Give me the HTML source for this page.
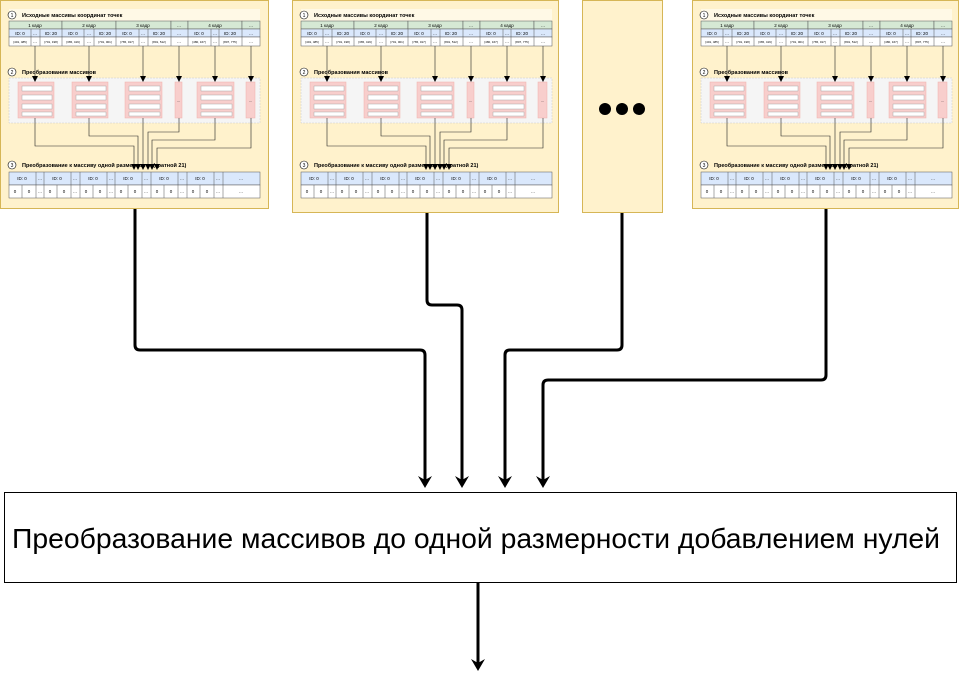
<!DOCTYPE html>
<html><head><meta charset="utf-8"><style>
html,body{margin:0;padding:0;background:#fff;width:961px;height:683px;overflow:hidden}
svg{display:block}
text{font-family:"Liberation Sans",sans-serif}
</style></head><body>
<svg width="961" height="683" viewBox="0 0 961 683" xmlns="http://www.w3.org/2000/svg">
<defs>
<marker id="a" markerWidth="6" markerHeight="6" refX="3" refY="3" orient="auto" markerUnits="userSpaceOnUse"><path d="M0,0 L6,3 L0,6 z" fill="#000"/></marker>
<marker id="A" markerWidth="14" markerHeight="14" refX="8" refY="7" orient="auto" markerUnits="userSpaceOnUse"><path d="M0,0 L12,7 L0,14 L4,7 z" fill="#000"/></marker>
</defs>

<!-- main connectors -->
<g fill="none" stroke="#000" stroke-width="3" stroke-linejoin="round">
<path d="M135,208 V345 Q135,350 140,350 H420 Q425,350 425,355 V484" marker-end="url(#A)"/>
<path d="M427,212 V300 Q427,305 432,305 H457 Q462,305 462,310 V484" marker-end="url(#A)"/>
<path d="M622,213 V345 Q622,350 617,350 H510 Q505,350 505,355 V484" marker-end="url(#A)"/>
<path d="M826,208 V375 Q826,380 821,380 H548 Q543,380 543,385 V484" marker-end="url(#A)"/>
<path d="M478,582 V667" marker-end="url(#A)"/>
</g>
<rect x="4.5" y="492.5" width="952" height="90" fill="#fff" stroke="#000" stroke-width="1"/>
<text x="12" y="548" font-size="28" textLength="928" lengthAdjust="spacingAndGlyphs">Преобразование массивов до одной размерности добавлением нулей</text>

<!-- dots panel -->
<rect x="582.5" y="0.5" width="80" height="212" fill="#fff2cc" stroke="#d6b656"/>
<circle cx="605" cy="109" r="6"/><circle cx="622" cy="109" r="6"/><circle cx="639" cy="109" r="6"/>

<!-- PANEL 1 -->
<g transform="translate(0,0)">
<rect x="0.5" y="0.5" width="268" height="208" fill="#fff2cc" stroke="#d6b656"/>
<rect x="9" y="9" width="251" height="12" fill="#fff9e6"/>
<circle cx="12" cy="15" r="4" fill="#fff" stroke="#000" stroke-width=".6"/><text x="12" y="17" font-size="5" text-anchor="middle">1</text>
<text x="22" y="17" font-size="5.5" font-weight="bold">Исходные массивы координат точек</text>
<g stroke="#555" stroke-width=".5">
<rect x="9" y="21" width="53" height="8" fill="#d5e8d4"/><rect x="62" y="21" width="54" height="8" fill="#d5e8d4"/><rect x="116" y="21" width="55" height="8" fill="#d5e8d4"/><rect x="171" y="21" width="17" height="8" fill="#d5e8d4"/><rect x="188" y="21" width="54" height="8" fill="#d5e8d4"/><rect x="242" y="21" width="18" height="8" fill="#d5e8d4"/>
<rect x="9" y="29" width="251" height="8" fill="#dae8fc"/><rect x="9" y="37" width="251" height="9" fill="#fff"/>
<path d="M31,29V46M40,29V46M62,29V46M84,29V46M94,29V46M116,29V46M139,29V46M148,29V46M171,29V46M188,29V46M211,29V46M219,29V46M242,29V46"/>
</g>
<g font-size="4.5" text-anchor="middle">
<text x="35" y="27">1 кадр</text><text x="89" y="27">2 кадр</text><text x="143" y="27">3 кадр</text><text x="179" y="27">...</text><text x="215" y="27">4 кадр</text><text x="251" y="27">...</text>
<text x="20" y="35">ID: 0</text><text x="35" y="35">...</text><text x="51" y="35">ID: 20</text><text x="73" y="35">ID: 0</text><text x="89" y="35">...</text><text x="105" y="35">ID: 20</text><text x="127" y="35">ID: 0</text><text x="143" y="35">...</text><text x="159" y="35">ID: 20</text><text x="179" y="35">...</text><text x="199" y="35">ID: 0</text><text x="215" y="35">...</text><text x="230" y="35">ID: 20</text><text x="251" y="35">...</text>
<text x="20" y="43" font-size="3">[401, 485]</text><text x="35" y="43">...</text><text x="51" y="43" font-size="3">[701, 198]</text><text x="73" y="43" font-size="3">[365, 419]</text><text x="89" y="43">...</text><text x="105" y="43" font-size="3">[701, 001]</text><text x="127" y="43" font-size="3">[765, 017]</text><text x="143" y="43">...</text><text x="159" y="43" font-size="3">[801, 512]</text><text x="179" y="43">...</text><text x="199" y="43" font-size="3">[480, 167]</text><text x="215" y="43">...</text><text x="230" y="43" font-size="3">[807, 775]</text><text x="251" y="43">...</text>
</g>
<circle cx="12" cy="72" r="4" fill="#fff" stroke="#000" stroke-width=".6"/><text x="12" y="74" font-size="5" text-anchor="middle">2</text>
<text x="22" y="74" font-size="5.5" font-weight="bold">Преобразования массивов</text>
<rect x="9" y="78" width="251" height="45" fill="#f5f5f5" stroke="#ccc" stroke-width=".5" stroke-dasharray="2,1"/>
<g fill="#f8cecc" stroke="#f0b0aa" stroke-width=".5">
<rect x="18" y="82" width="36" height="36"/><rect x="72" y="82" width="36" height="36"/><rect x="125" y="82" width="37" height="36"/><rect x="175" y="82" width="7" height="36"/><rect x="197" y="82" width="37" height="36"/><rect x="246" y="82" width="9" height="36"/>
</g>
<g fill="#fff" stroke="#999" stroke-width=".4">
<rect x="22" y="86" width="30" height="5"/><rect x="22" y="95" width="30" height="5"/><rect x="22" y="104" width="30" height="5"/><rect x="22" y="112" width="30" height="4"/>
<rect x="76" y="86" width="30" height="5"/><rect x="76" y="95" width="30" height="5"/><rect x="76" y="104" width="30" height="5"/><rect x="76" y="112" width="30" height="4"/>
<rect x="129" y="86" width="31" height="5"/><rect x="129" y="95" width="31" height="5"/><rect x="129" y="104" width="31" height="5"/><rect x="129" y="112" width="31" height="4"/>
<rect x="201" y="86" width="31" height="5"/><rect x="201" y="95" width="31" height="5"/><rect x="201" y="104" width="31" height="5"/><rect x="201" y="112" width="31" height="4"/>
</g>
<text x="178.5" y="102" font-size="4" text-anchor="middle">...</text><text x="250.5" y="102" font-size="4" text-anchor="middle">...</text>
<g fill="none" stroke="#222" stroke-width=".6">
<path d="M35,46V79" marker-end="url(#a)"/><path d="M89,46V79" marker-end="url(#a)"/><path d="M143,46V79" marker-end="url(#a)"/><path d="M179,46V79" marker-end="url(#a)"/><path d="M215,46V79" marker-end="url(#a)"/><path d="M251,46V79" marker-end="url(#a)"/>
<path d="M35,118V146H134V167" marker-end="url(#a)"/><path d="M89,118V136H138V167" marker-end="url(#a)"/><path d="M143,118V167" marker-end="url(#a)"/><path d="M179,118V132H148V167" marker-end="url(#a)"/><path d="M215,118V140H152V167" marker-end="url(#a)"/><path d="M251,118V148H157V167" marker-end="url(#a)"/>
</g>
<circle cx="12" cy="165" r="4" fill="#fff" stroke="#000" stroke-width=".6"/><text x="12" y="167" font-size="5" text-anchor="middle">3</text>
<text x="22" y="167" font-size="5.5" font-weight="bold">Преобразование к массиву одной размерности (кратной 21)</text>
<g stroke="#555" stroke-width=".5">
<rect x="9" y="172" width="251" height="13" fill="#dae8fc"/><rect x="9" y="185" width="251" height="13" fill="#fff"/>
<path d="M36,172V198M44,172V198M71,172V198M80,172V198M107,172V198M115,172V198M142,172V198M151,172V198M178,172V198M187,172V198M214,172V198M223,172V198M22,185V198M57,185V198M93,185V198M128,185V198M164,185V198M200,185V198"/>
</g>
<g font-size="4.5" text-anchor="middle">
<text x="22" y="180">ID: 0</text><text x="40" y="180">...</text><text x="57" y="180">ID: 0</text><text x="75" y="180">...</text><text x="93" y="180">ID: 0</text><text x="111" y="180">...</text><text x="128" y="180">ID: 0</text><text x="146" y="180">...</text><text x="164" y="180">ID: 0</text><text x="182" y="180">...</text><text x="200" y="180">ID: 0</text><text x="218" y="180">...</text><text x="241" y="180">...</text>
<text x="15" y="193">0</text><text x="29" y="193">0</text><text x="40" y="193">...</text><text x="50" y="193">0</text><text x="64" y="193">0</text><text x="75" y="193">...</text><text x="86" y="193">0</text><text x="100" y="193">0</text><text x="111" y="193">...</text><text x="121" y="193">0</text><text x="135" y="193">0</text><text x="146" y="193">...</text><text x="157" y="193">0</text><text x="171" y="193">0</text><text x="182" y="193">...</text><text x="193" y="193">0</text><text x="207" y="193">0</text><text x="218" y="193">...</text><text x="241" y="193">...</text>
</g>
</g>

<!-- PANEL 2 -->
<g transform="translate(292,0)">
<rect x="0.5" y="0.5" width="266" height="212" fill="#fff2cc" stroke="#d6b656"/>
<rect x="9" y="9" width="251" height="12" fill="#fff9e6"/>
<circle cx="12" cy="15" r="4" fill="#fff" stroke="#000" stroke-width=".6"/><text x="12" y="17" font-size="5" text-anchor="middle">1</text>
<text x="22" y="17" font-size="5.5" font-weight="bold">Исходные массивы координат точек</text>
<g stroke="#555" stroke-width=".5">
<rect x="9" y="21" width="53" height="8" fill="#d5e8d4"/><rect x="62" y="21" width="54" height="8" fill="#d5e8d4"/><rect x="116" y="21" width="55" height="8" fill="#d5e8d4"/><rect x="171" y="21" width="17" height="8" fill="#d5e8d4"/><rect x="188" y="21" width="54" height="8" fill="#d5e8d4"/><rect x="242" y="21" width="18" height="8" fill="#d5e8d4"/>
<rect x="9" y="29" width="251" height="8" fill="#dae8fc"/><rect x="9" y="37" width="251" height="9" fill="#fff"/>
<path d="M31,29V46M40,29V46M62,29V46M84,29V46M94,29V46M116,29V46M139,29V46M148,29V46M171,29V46M188,29V46M211,29V46M219,29V46M242,29V46"/>
</g>
<g font-size="4.5" text-anchor="middle">
<text x="35" y="27">1 кадр</text><text x="89" y="27">2 кадр</text><text x="143" y="27">3 кадр</text><text x="179" y="27">...</text><text x="215" y="27">4 кадр</text><text x="251" y="27">...</text>
<text x="20" y="35">ID: 0</text><text x="35" y="35">...</text><text x="51" y="35">ID: 20</text><text x="73" y="35">ID: 0</text><text x="89" y="35">...</text><text x="105" y="35">ID: 20</text><text x="127" y="35">ID: 0</text><text x="143" y="35">...</text><text x="159" y="35">ID: 20</text><text x="179" y="35">...</text><text x="199" y="35">ID: 0</text><text x="215" y="35">...</text><text x="230" y="35">ID: 20</text><text x="251" y="35">...</text>
<text x="20" y="43" font-size="3">[401, 485]</text><text x="35" y="43">...</text><text x="51" y="43" font-size="3">[701, 198]</text><text x="73" y="43" font-size="3">[365, 419]</text><text x="89" y="43">...</text><text x="105" y="43" font-size="3">[701, 001]</text><text x="127" y="43" font-size="3">[765, 017]</text><text x="143" y="43">...</text><text x="159" y="43" font-size="3">[801, 512]</text><text x="179" y="43">...</text><text x="199" y="43" font-size="3">[480, 167]</text><text x="215" y="43">...</text><text x="230" y="43" font-size="3">[807, 775]</text><text x="251" y="43">...</text>
</g>
<circle cx="12" cy="72" r="4" fill="#fff" stroke="#000" stroke-width=".6"/><text x="12" y="74" font-size="5" text-anchor="middle">2</text>
<text x="22" y="74" font-size="5.5" font-weight="bold">Преобразования массивов</text>
<rect x="9" y="78" width="251" height="45" fill="#f5f5f5" stroke="#ccc" stroke-width=".5" stroke-dasharray="2,1"/>
<g fill="#f8cecc" stroke="#f0b0aa" stroke-width=".5">
<rect x="18" y="82" width="36" height="36"/><rect x="72" y="82" width="36" height="36"/><rect x="125" y="82" width="37" height="36"/><rect x="175" y="82" width="7" height="36"/><rect x="197" y="82" width="37" height="36"/><rect x="246" y="82" width="9" height="36"/>
</g>
<g fill="#fff" stroke="#999" stroke-width=".4">
<rect x="22" y="86" width="30" height="5"/><rect x="22" y="95" width="30" height="5"/><rect x="22" y="104" width="30" height="5"/><rect x="22" y="112" width="30" height="4"/>
<rect x="76" y="86" width="30" height="5"/><rect x="76" y="95" width="30" height="5"/><rect x="76" y="104" width="30" height="5"/><rect x="76" y="112" width="30" height="4"/>
<rect x="129" y="86" width="31" height="5"/><rect x="129" y="95" width="31" height="5"/><rect x="129" y="104" width="31" height="5"/><rect x="129" y="112" width="31" height="4"/>
<rect x="201" y="86" width="31" height="5"/><rect x="201" y="95" width="31" height="5"/><rect x="201" y="104" width="31" height="5"/><rect x="201" y="112" width="31" height="4"/>
</g>
<text x="178.5" y="102" font-size="4" text-anchor="middle">...</text><text x="250.5" y="102" font-size="4" text-anchor="middle">...</text>
<g fill="none" stroke="#222" stroke-width=".6">
<path d="M35,46V79" marker-end="url(#a)"/><path d="M89,46V79" marker-end="url(#a)"/><path d="M143,46V79" marker-end="url(#a)"/><path d="M179,46V79" marker-end="url(#a)"/><path d="M215,46V79" marker-end="url(#a)"/><path d="M251,46V79" marker-end="url(#a)"/>
<path d="M35,118V146H134V167" marker-end="url(#a)"/><path d="M89,118V136H138V167" marker-end="url(#a)"/><path d="M143,118V167" marker-end="url(#a)"/><path d="M179,118V132H148V167" marker-end="url(#a)"/><path d="M215,118V140H152V167" marker-end="url(#a)"/><path d="M251,118V148H157V167" marker-end="url(#a)"/>
</g>
<circle cx="12" cy="165" r="4" fill="#fff" stroke="#000" stroke-width=".6"/><text x="12" y="167" font-size="5" text-anchor="middle">3</text>
<text x="22" y="167" font-size="5.5" font-weight="bold">Преобразование к массиву одной размерности (кратной 21)</text>
<g stroke="#555" stroke-width=".5">
<rect x="9" y="172" width="251" height="13" fill="#dae8fc"/><rect x="9" y="185" width="251" height="13" fill="#fff"/>
<path d="M36,172V198M44,172V198M71,172V198M80,172V198M107,172V198M115,172V198M142,172V198M151,172V198M178,172V198M187,172V198M214,172V198M223,172V198M22,185V198M57,185V198M93,185V198M128,185V198M164,185V198M200,185V198"/>
</g>
<g font-size="4.5" text-anchor="middle">
<text x="22" y="180">ID: 0</text><text x="40" y="180">...</text><text x="57" y="180">ID: 0</text><text x="75" y="180">...</text><text x="93" y="180">ID: 0</text><text x="111" y="180">...</text><text x="128" y="180">ID: 0</text><text x="146" y="180">...</text><text x="164" y="180">ID: 0</text><text x="182" y="180">...</text><text x="200" y="180">ID: 0</text><text x="218" y="180">...</text><text x="241" y="180">...</text>
<text x="15" y="193">0</text><text x="29" y="193">0</text><text x="40" y="193">...</text><text x="50" y="193">0</text><text x="64" y="193">0</text><text x="75" y="193">...</text><text x="86" y="193">0</text><text x="100" y="193">0</text><text x="111" y="193">...</text><text x="121" y="193">0</text><text x="135" y="193">0</text><text x="146" y="193">...</text><text x="157" y="193">0</text><text x="171" y="193">0</text><text x="182" y="193">...</text><text x="193" y="193">0</text><text x="207" y="193">0</text><text x="218" y="193">...</text><text x="241" y="193">...</text>
</g>
</g>

<!-- PANEL 4 -->
<g transform="translate(692,0)">
<rect x="0.5" y="0.5" width="266" height="208" fill="#fff2cc" stroke="#d6b656"/>
<rect x="9" y="9" width="251" height="12" fill="#fff9e6"/>
<circle cx="12" cy="15" r="4" fill="#fff" stroke="#000" stroke-width=".6"/><text x="12" y="17" font-size="5" text-anchor="middle">1</text>
<text x="22" y="17" font-size="5.5" font-weight="bold">Исходные массивы координат точек</text>
<g stroke="#555" stroke-width=".5">
<rect x="9" y="21" width="53" height="8" fill="#d5e8d4"/><rect x="62" y="21" width="54" height="8" fill="#d5e8d4"/><rect x="116" y="21" width="55" height="8" fill="#d5e8d4"/><rect x="171" y="21" width="17" height="8" fill="#d5e8d4"/><rect x="188" y="21" width="54" height="8" fill="#d5e8d4"/><rect x="242" y="21" width="18" height="8" fill="#d5e8d4"/>
<rect x="9" y="29" width="251" height="8" fill="#dae8fc"/><rect x="9" y="37" width="251" height="9" fill="#fff"/>
<path d="M31,29V46M40,29V46M62,29V46M84,29V46M94,29V46M116,29V46M139,29V46M148,29V46M171,29V46M188,29V46M211,29V46M219,29V46M242,29V46"/>
</g>
<g font-size="4.5" text-anchor="middle">
<text x="35" y="27">1 кадр</text><text x="89" y="27">2 кадр</text><text x="143" y="27">3 кадр</text><text x="179" y="27">...</text><text x="215" y="27">4 кадр</text><text x="251" y="27">...</text>
<text x="20" y="35">ID: 0</text><text x="35" y="35">...</text><text x="51" y="35">ID: 20</text><text x="73" y="35">ID: 0</text><text x="89" y="35">...</text><text x="105" y="35">ID: 20</text><text x="127" y="35">ID: 0</text><text x="143" y="35">...</text><text x="159" y="35">ID: 20</text><text x="179" y="35">...</text><text x="199" y="35">ID: 0</text><text x="215" y="35">...</text><text x="230" y="35">ID: 20</text><text x="251" y="35">...</text>
<text x="20" y="43" font-size="3">[401, 485]</text><text x="35" y="43">...</text><text x="51" y="43" font-size="3">[701, 198]</text><text x="73" y="43" font-size="3">[365, 419]</text><text x="89" y="43">...</text><text x="105" y="43" font-size="3">[701, 001]</text><text x="127" y="43" font-size="3">[765, 017]</text><text x="143" y="43">...</text><text x="159" y="43" font-size="3">[801, 512]</text><text x="179" y="43">...</text><text x="199" y="43" font-size="3">[480, 167]</text><text x="215" y="43">...</text><text x="230" y="43" font-size="3">[807, 775]</text><text x="251" y="43">...</text>
</g>
<circle cx="12" cy="72" r="4" fill="#fff" stroke="#000" stroke-width=".6"/><text x="12" y="74" font-size="5" text-anchor="middle">2</text>
<text x="22" y="74" font-size="5.5" font-weight="bold">Преобразования массивов</text>
<rect x="9" y="78" width="251" height="45" fill="#f5f5f5" stroke="#ccc" stroke-width=".5" stroke-dasharray="2,1"/>
<g fill="#f8cecc" stroke="#f0b0aa" stroke-width=".5">
<rect x="18" y="82" width="36" height="36"/><rect x="72" y="82" width="36" height="36"/><rect x="125" y="82" width="37" height="36"/><rect x="175" y="82" width="7" height="36"/><rect x="197" y="82" width="37" height="36"/><rect x="246" y="82" width="9" height="36"/>
</g>
<g fill="#fff" stroke="#999" stroke-width=".4">
<rect x="22" y="86" width="30" height="5"/><rect x="22" y="95" width="30" height="5"/><rect x="22" y="104" width="30" height="5"/><rect x="22" y="112" width="30" height="4"/>
<rect x="76" y="86" width="30" height="5"/><rect x="76" y="95" width="30" height="5"/><rect x="76" y="104" width="30" height="5"/><rect x="76" y="112" width="30" height="4"/>
<rect x="129" y="86" width="31" height="5"/><rect x="129" y="95" width="31" height="5"/><rect x="129" y="104" width="31" height="5"/><rect x="129" y="112" width="31" height="4"/>
<rect x="201" y="86" width="31" height="5"/><rect x="201" y="95" width="31" height="5"/><rect x="201" y="104" width="31" height="5"/><rect x="201" y="112" width="31" height="4"/>
</g>
<text x="178.5" y="102" font-size="4" text-anchor="middle">...</text><text x="250.5" y="102" font-size="4" text-anchor="middle">...</text>
<g fill="none" stroke="#222" stroke-width=".6">
<path d="M35,46V79" marker-end="url(#a)"/><path d="M89,46V79" marker-end="url(#a)"/><path d="M143,46V79" marker-end="url(#a)"/><path d="M179,46V79" marker-end="url(#a)"/><path d="M215,46V79" marker-end="url(#a)"/><path d="M251,46V79" marker-end="url(#a)"/>
<path d="M35,118V146H134V167" marker-end="url(#a)"/><path d="M89,118V136H138V167" marker-end="url(#a)"/><path d="M143,118V167" marker-end="url(#a)"/><path d="M179,118V132H148V167" marker-end="url(#a)"/><path d="M215,118V140H152V167" marker-end="url(#a)"/><path d="M251,118V148H157V167" marker-end="url(#a)"/>
</g>
<circle cx="12" cy="165" r="4" fill="#fff" stroke="#000" stroke-width=".6"/><text x="12" y="167" font-size="5" text-anchor="middle">3</text>
<text x="22" y="167" font-size="5.5" font-weight="bold">Преобразование к массиву одной размерности (кратной 21)</text>
<g stroke="#555" stroke-width=".5">
<rect x="9" y="172" width="251" height="13" fill="#dae8fc"/><rect x="9" y="185" width="251" height="13" fill="#fff"/>
<path d="M36,172V198M44,172V198M71,172V198M80,172V198M107,172V198M115,172V198M142,172V198M151,172V198M178,172V198M187,172V198M214,172V198M223,172V198M22,185V198M57,185V198M93,185V198M128,185V198M164,185V198M200,185V198"/>
</g>
<g font-size="4.5" text-anchor="middle">
<text x="22" y="180">ID: 0</text><text x="40" y="180">...</text><text x="57" y="180">ID: 0</text><text x="75" y="180">...</text><text x="93" y="180">ID: 0</text><text x="111" y="180">...</text><text x="128" y="180">ID: 0</text><text x="146" y="180">...</text><text x="164" y="180">ID: 0</text><text x="182" y="180">...</text><text x="200" y="180">ID: 0</text><text x="218" y="180">...</text><text x="241" y="180">...</text>
<text x="15" y="193">0</text><text x="29" y="193">0</text><text x="40" y="193">...</text><text x="50" y="193">0</text><text x="64" y="193">0</text><text x="75" y="193">...</text><text x="86" y="193">0</text><text x="100" y="193">0</text><text x="111" y="193">...</text><text x="121" y="193">0</text><text x="135" y="193">0</text><text x="146" y="193">...</text><text x="157" y="193">0</text><text x="171" y="193">0</text><text x="182" y="193">...</text><text x="193" y="193">0</text><text x="207" y="193">0</text><text x="218" y="193">...</text><text x="241" y="193">...</text>
</g>
</g>
</svg>
</body></html>
